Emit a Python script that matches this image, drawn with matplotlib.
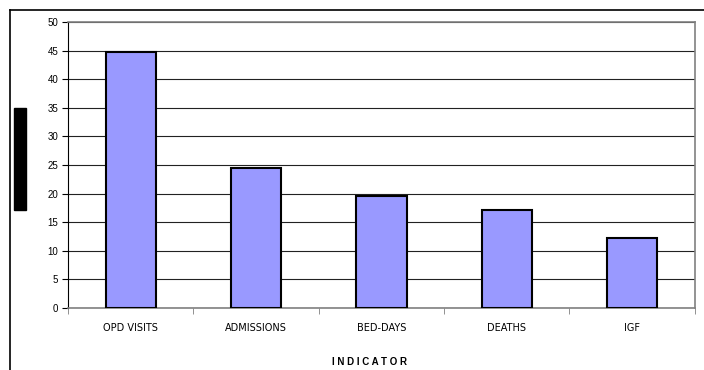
import matplotlib
matplotlib.use("Agg")
import matplotlib.pyplot as plt
from matplotlib.lines import Line2D
from matplotlib.patches import Rectangle
import numpy as np

plt.rcParams['font.family'] = ['Liberation Sans', 'DejaVu Sans']

# indicator values
indicators = ['OPD VISITS', 'ADMISSIONS', 'BED-DAYS', 'DEATHS', 'IGF']
values = [44.8, 24.5, 19.6, 17.1, 12.2]
y_ticks = [0, 5, 10, 15, 20, 25, 30, 35, 40, 45, 50]

fig = plt.figure(figsize=(7.04, 3.70), dpi=100)
ax = fig.add_axes([0.0966, 0.1676, 0.8904, 0.7729])

x = np.arange(len(indicators))
ax.bar(x, values, width=0.4, color='#9999FF', edgecolor='black', linewidth=1.5, zorder=3)

ax.set_xlim(-0.5, len(indicators) - 0.5)
ax.set_ylim(0, 50)
ax.set_yticks(y_ticks)
ax.yaxis.grid(True, color='#222222', linewidth=0.8, zorder=0)
ax.set_axisbelow(True)

ax.set_xticks(x)
ax.set_xticklabels(indicators, fontsize=7, family='DejaVu Sans')
ax.set_xticks(np.arange(-0.5, len(indicators)), minor=True)
ax.tick_params(axis='x', which='major', length=0, pad=11)
ax.tick_params(axis='x', which='minor', length=4, color='#808080', direction='out')
ax.tick_params(axis='y', labelsize=7, length=4, width=0.8, direction='out', pad=3)

ax.spines['left'].set_color('black')
for side in ('top', 'right', 'bottom'):
    ax.spines[side].set_color('#808080')
    ax.spines[side].set_linewidth(1.2)

# axis title
fig.text(369 / 704, 1 - 362 / 370, 'I N D I C A T O R', fontsize=7, fontweight='bold',
         ha='center', va='center')

# outer chart frame (top and left edges)
fig.add_artist(Line2D([0.0142, 1.0], [0.973, 0.973], color='black', linewidth=1.2))
fig.add_artist(Line2D([0.0142, 0.0142], [0.0, 0.973], color='black', linewidth=1.2))

# blacked-out axis title
fig.add_artist(Rectangle((14 / 704, 1 - 210 / 370), 12 / 704, 102 / 370,
                         transform=fig.transFigure, color='black'))

fig.savefig('out.png', dpi=100)
